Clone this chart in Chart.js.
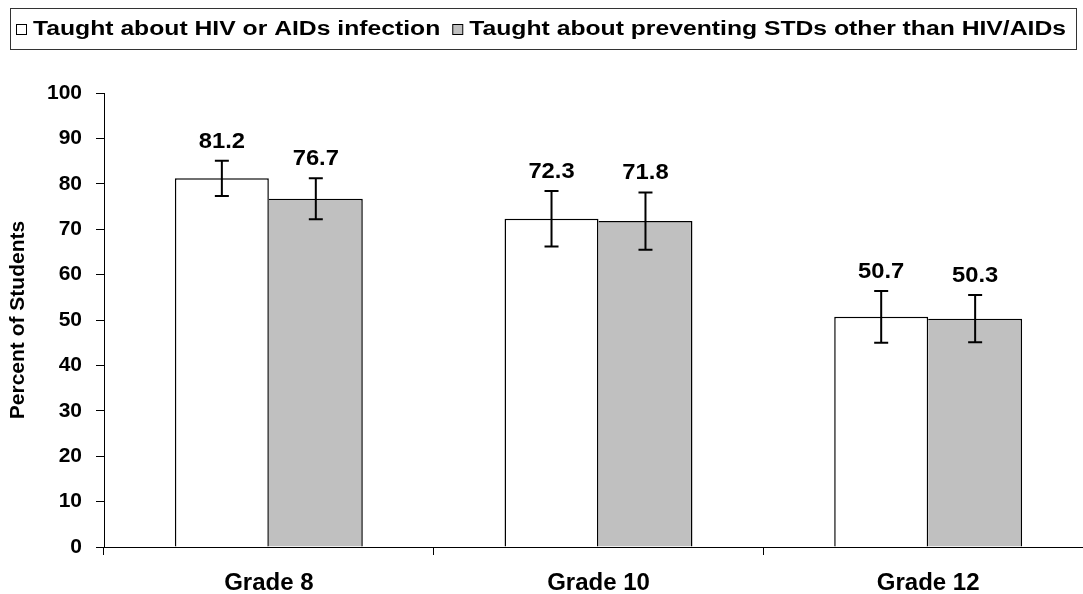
<!DOCTYPE html>
<html>
<head>
<meta charset="utf-8">
<script src="https://cdn.jsdelivr.net/npm/chart.js@4"></script>
<style>
  html, body { margin: 0; padding: 0; background: #fff; overflow: hidden; }
  canvas { display: block; }
</style>
</head>
<body>
<canvas id="chart" width="1100" height="594"></canvas>
<script>
// data
let grades = ["Grade 8", "Grade 10", "Grade 12"];
let hivValues = [81.2, 72.3, 50.7];
let stdValues = [76.7, 71.8, 50.3];
let hivErrors = [3.9, 6.1, 5.7];
let stdErrors = [4.5, 6.3, 5.2];
let yTicks = [0, 10, 20, 30, 40, 50, 60, 70, 80, 90, 100];

let seriesNames = [
  "Taught about HIV or AIDs infection",
  "Taught about preventing STDs other than HIV/AIDs"
];

Chart.defaults.font.family = "'Liberation Sans', Arial, sans-serif";
Chart.defaults.color = "#000";

// draws text stretched horizontally like the original picture
function wideText(ctx, text, x, y, sx) {
  ctx.save();
  ctx.translate(x, y);
  ctx.scale(sx, 1);
  ctx.fillText(text, 0, 0);
  ctx.restore();
}

let errorBars = {
  id: "errorBars",
  afterDatasetsDraw(chart) {
    let ctx = chart.ctx;
    let y = chart.scales.y;
    ctx.save();
    chart.data.datasets.forEach((ds, i) => {
      let meta = chart.getDatasetMeta(i);
      meta.data.forEach((bar, j) => {
        let v = ds.data[j];
        let e = ds.errors[j];
        let top = y.getPixelForValue(v + e);
        let bot = y.getPixelForValue(v - e);
        ctx.strokeStyle = "#000";
        ctx.lineWidth = 2;
        ctx.beginPath();
        ctx.moveTo(bar.x, top);
        ctx.lineTo(bar.x, bot);
        ctx.moveTo(bar.x - 7, top);
        ctx.lineTo(bar.x + 7, top);
        ctx.moveTo(bar.x - 7, bot);
        ctx.lineTo(bar.x + 7, bot);
        ctx.stroke();

        ctx.fillStyle = "#000";
        ctx.font = "bold 22px 'Liberation Sans', Arial, sans-serif";
        ctx.textAlign = "left";
        ctx.textBaseline = "alphabetic";
        let label = v.toFixed(1);
        let sx = 1.08;
        let w = ctx.measureText(label).width * sx;
        wideText(ctx, label, bar.x - w / 2, top - 13, sx);
      });
    });
    ctx.restore();
  }
};

let boxLegend = {
  id: "boxLegend",
  afterDraw(chart) {
    let ctx = chart.ctx;
    ctx.save();
    ctx.strokeStyle = "#333";
    ctx.lineWidth = 1;
    ctx.strokeRect(10.5, 8.5, 1066, 41);

    ctx.font = "bold 20px 'Liberation Sans', Arial, sans-serif";
    ctx.textAlign = "left";
    ctx.textBaseline = "alphabetic";
    let ds = chart.data.datasets;
    let raw = 0;
    ds.forEach(d => { raw += ctx.measureText(d.label).width; });
    let marker = 10, gapIn = 7, gapOut = 12;
    let fixed = ds.length * (marker + gapIn) + (ds.length - 1) * gapOut;
    let sx = (1050 - fixed) / raw;
    let x = 16;
    ds.forEach(d => {
      ctx.fillStyle = d.backgroundColor;
      ctx.fillRect(x + 0.5, 24.5, marker, marker);
      ctx.strokeStyle = "#000";
      ctx.strokeRect(x + 0.5, 24.5, marker, marker);
      x += marker + gapIn;
      ctx.fillStyle = "#000";
      wideText(ctx, d.label, x, 35, sx);
      x += ctx.measureText(d.label).width * sx + gapOut;
    });
    ctx.restore();
  }
};

new Chart(document.getElementById("chart"), {
  type: "bar",
  data: {
    labels: grades,
    datasets: [
      {
        label: seriesNames[0],
        data: hivValues,
        errors: hivErrors,
        backgroundColor: "#ffffff",
        borderColor: "#000",
        borderWidth: 1.5,
        barPercentage: 1,
        categoryPercentage: 0.57
      },
      {
        label: seriesNames[1],
        data: stdValues,
        errors: stdErrors,
        backgroundColor: "#c0c0c0",
        borderColor: "#000",
        borderWidth: { top: 1.5, right: 1.5, bottom: 0, left: 0 },
        borderSkipped: false,
        barPercentage: 1,
        categoryPercentage: 0.57
      }
    ]
  },
  options: {
    responsive: false,
    animation: false,
    devicePixelRatio: 1,
    layout: { padding: { top: 93, right: 7, bottom: 0, left: 0 } },
    plugins: {
      legend: { display: false },
      tooltip: { enabled: false }
    },
    scales: {
      x: {
        grid: {
          drawOnChartArea: false,
          drawTicks: true,
          tickLength: 8,
          color: "#000",
          tickColor: "#000"
        },
        border: { color: "#000", width: 1 },
        ticks: {
          font: { size: 24, weight: "bold" },
          color: "#000",
          padding: 14
        },
        afterFit: s => { s.height = 47; }
      },
      y: {
        min: 0,
        max: 100,
        afterBuildTicks: s => { s.ticks = yTicks.map(v => ({ value: v })); },
        grid: {
          drawOnChartArea: false,
          drawTicks: true,
          tickLength: 8,
          color: "#000",
          tickColor: "#000"
        },
        border: { color: "#000", width: 1 },
        ticks: {
          font: { size: 21, weight: "bold" },
          color: "#000",
          padding: 14
        },
        title: {
          display: true,
          text: "Percent of Students",
          font: { size: 21, weight: "bold" },
          color: "#000",
          padding: { top: 6, bottom: 0 }
        },
        afterFit: s => { s.width = 104; }
      }
    }
  },
  plugins: [errorBars, boxLegend]
});
</script>
</body>
</html>
